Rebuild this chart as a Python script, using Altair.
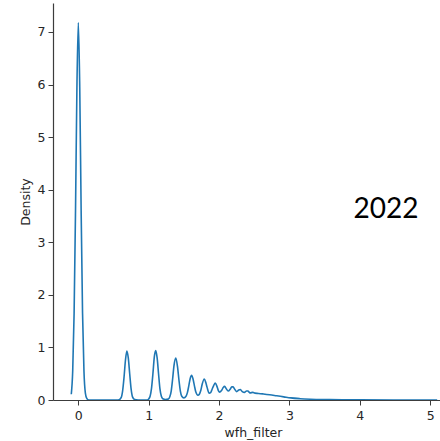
import altair as alt
import pandas as pd

wfh_filter = [
    -0.10, -0.08, -0.06, -0.04, -0.02, 0.00, 0.02, 0.04, 0.06, 0.08, 0.10, 0.12, 0.15,
    0.55, 0.58, 0.61, 0.63, 0.65, 0.67, 0.69, 0.71, 0.73, 0.75, 0.77, 0.80, 0.85,
    0.98, 1.00, 1.02, 1.04, 1.06, 1.08, 1.10, 1.12, 1.14, 1.16, 1.18, 1.20, 1.24,
    1.28, 1.30, 1.32, 1.34, 1.36, 1.385, 1.41, 1.43, 1.45, 1.47, 1.50,
    1.53, 1.55, 1.57, 1.59, 1.61, 1.63, 1.65, 1.67, 1.70,
    1.72, 1.74, 1.76, 1.79, 1.81, 1.83, 1.86,
    1.88, 1.90, 1.925, 1.946, 1.97, 1.99, 2.01,
    2.04, 2.06, 2.08, 2.10, 2.13,
    2.16, 2.18, 2.20, 2.22, 2.25,
    2.28, 2.30, 2.33, 2.36,
    2.39, 2.41, 2.44,
    2.48, 2.51, 2.56, 2.63, 2.72, 2.82, 2.92, 3.02, 3.15, 3.30, 3.50, 3.75, 4.00, 4.50, 5.10,
]
density = [
    0.11, 0.55, 1.65, 3.60, 5.95, 7.18, 5.95, 3.60, 1.65, 0.55, 0.13, 0.03, 0.00,
    0.00, 0.005, 0.05, 0.18, 0.44, 0.76, 0.93, 0.80, 0.50, 0.21, 0.06, 0.01, 0.00,
    0.00, 0.02, 0.07, 0.22, 0.50, 0.82, 0.94, 0.80, 0.50, 0.21, 0.07, 0.025, 0.01,
    0.02, 0.06, 0.17, 0.40, 0.66, 0.80, 0.63, 0.38, 0.17, 0.07, 0.04,
    0.07, 0.14, 0.27, 0.41, 0.47, 0.40, 0.27, 0.15, 0.09,
    0.11, 0.18, 0.30, 0.40, 0.34, 0.24, 0.13,
    0.14, 0.20, 0.28, 0.32, 0.26, 0.18, 0.15,
    0.19, 0.24, 0.26, 0.22, 0.17,
    0.21, 0.25, 0.25, 0.21, 0.16,
    0.19, 0.20, 0.16, 0.145,
    0.17, 0.17, 0.135,
    0.145, 0.13, 0.125, 0.115, 0.10, 0.08, 0.06, 0.04, 0.025, 0.015, 0.008, 0.004, 0.002, 0.001, 0.00,
]

x_ticks = [0, 1, 2, 3, 4, 5]
y_ticks = [0, 1, 2, 3, 4, 5, 6, 7]
year_label = ["2022"]

df = pd.DataFrame({"wfh_filter": wfh_filter, "density": density})

axis_style = dict(
    grid=False,
    domainColor="#3c3c3c",
    domainWidth=1.2,
    tickColor="#3c3c3c",
    tickSize=5,
    labelFont="DejaVu Sans",
    labelFontSize=12.5,
    labelColor="#262626",
    titleFont="DejaVu Sans",
    titleFontSize=12.5,
    titleFontWeight="normal",
    titleColor="#262626",
)

curve = alt.Chart(df).mark_line(
    color="#1f77b4", strokeWidth=1.6, interpolate="monotone", clip=True
).encode(
    x=alt.X(
        "wfh_filter:Q",
        scale=alt.Scale(domain=[-0.36, 5.14], nice=False, zero=False),
        axis=alt.Axis(values=x_ticks, title="wfh_filter", labelPadding=4, titlePadding=5,
                      titleX=200, **axis_style),
    ),
    y=alt.Y(
        "density:Q",
        scale=alt.Scale(domain=[0, 7.55], nice=False),
        axis=alt.Axis(values=y_ticks, title="Density", labelPadding=3, titlePadding=5,
                      **axis_style),
    ),
)

year = alt.Chart(pd.DataFrame({"year": year_label})).mark_text(
    font="Lato", fontSize=28, color="#000000", align="center", baseline="alphabetic"
).encode(
    text="year:N",
    x=alt.value(333),
    y=alt.value(215),
)

chart = (
    alt.layer(curve, year)
    .properties(
        width=387,
        height=397,
        padding={"left": 53, "top": 3, "right": 0, "bottom": 41},
        autosize="none",
        background="white",
    )
    .configure_view(stroke=None)
)

chart.save("out.html", embed_options={"renderer": "svg", "actions": False})
